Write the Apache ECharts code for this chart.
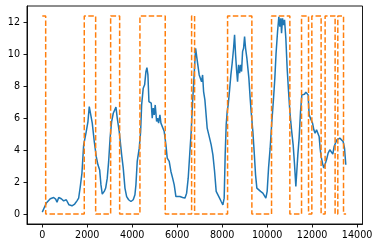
<!DOCTYPE html>
<html>
<head>
<meta charset="utf-8">
<script src="https://cdn.jsdelivr.net/npm/echarts@6/dist/echarts.min.js"></script>
<style>html,body{margin:0;padding:0;background:#fff;}#c{width:380px;height:248px;}</style>
</head>
<body>
<div id="c"></div>
<script>
const xTicks = [0, 2000, 4000, 6000, 8000, 10000, 12000, 14000];
const yTicks = [0, 2, 4, 6, 8, 10, 12];

const blueX = [0, 90, 180, 355, 505, 595, 655, 730, 845, 950, 1067, 1130, 1187, 1320, 1440, 1542, 1617, 1690, 1764, 1840, 1955, 2031, 2089, 2164, 2222, 2311, 2400, 2475, 2551, 2609, 2667, 2755, 2818, 2889, 2951, 3015, 3084, 3156, 3231, 3276, 3333, 3422, 3529, 3600, 3676, 3751, 3840, 3942, 4044, 4120, 4164, 4222, 4311, 4373, 4418, 4489, 4551, 4609, 4653, 4698, 4742, 4787, 4845, 4889, 4933, 4978, 5022, 5084, 5129, 5173, 5231, 5276, 5351, 5422, 5498, 5556, 5644, 5720, 5796, 5867, 5942, 6018, 6120, 6240, 6342, 6418, 6489, 6564, 6622, 6684, 6720, 6773, 6818, 6876, 6920, 6978, 7040, 7084, 7129, 7173, 7231, 7289, 7333, 7396, 7440, 7511, 7587, 7662, 7733, 7809, 7884, 7956, 8031, 8089, 8133, 8178, 8222, 8267, 8329, 8387, 8444, 8507, 8551, 8596, 8640, 8684, 8729, 8773, 8818, 8862, 8907, 8951, 8996, 9040, 9098, 9187, 9244, 9289, 9364, 9422, 9484, 9542, 9618, 9707, 9809, 9884, 9942, 10000, 10062, 10133, 10209, 10284, 10342, 10395, 10462, 10520, 10564, 10609, 10640, 10684, 10729, 10773, 10831, 10889, 10951, 11009, 11084, 11156, 11218, 11276, 11320, 11364, 11422, 11484, 11542, 11600, 11662, 11720, 11778, 11822, 11867, 11911, 11956, 12018, 12076, 12133, 12196, 12253, 12311, 12356, 12400, 12462, 12520, 12578, 12640, 12711, 12787, 12862, 12920, 12978, 13040, 13098, 13156, 13231, 13307, 13378, 13440, 13498];
const blueY = [0.12, 0.41, 0.69, 0.96, 1.04, 0.94, 0.75, 1.04, 0.96, 0.83, 0.90, 0.96, 0.58, 0.52, 0.63, 0.83, 1.00, 1.73, 2.57, 4.34, 5.17, 5.80, 6.74, 6.74, 5.70, 4.55, 3.60, 3.09, 2.77, 1.83, 1.25, 1.42, 1.63, 2.25, 3.30, 4.76, 5.80, 6.32, 6.22, 6.70, 6.01, 5.17, 3.71, 2.88, 1.63, 1.10, 0.90, 0.79, 0.90, 1.21, 1.83, 3.30, 4.13, 5.17, 6.84, 7.89, 8.10, 8.93, 9.18, 8.72, 7.05, 7.16, 6.95, 6.01, 6.64, 6.22, 6.84, 5.80, 6.01, 5.70, 6.22, 5.70, 5.80, 5.17, 4.34, 3.51, 3.30, 2.67, 2.25, 1.83, 1.10, 1.00, 1.10, 1.04, 1.00, 1.31, 2.25, 3.92, 5.17, 7.05, 7.89, 9.24, 10.39, 9.77, 9.87, 8.72, 8.62, 8.30, 8.72, 7.68, 7.16, 7.05, 5.39, 5.28, 4.76, 4.34, 3.71, 2.67, 1.42, 1.31, 1.00, 0.79, 0.58, 1.00, 3.71, 5.59, 6.42, 6.84, 7.78, 8.72, 9.45, 10.39, 11.23, 9.97, 9.04, 8.30, 9.35, 8.83, 9.35, 8.93, 10.18, 10.39, 11.12, 10.39, 9.77, 8.52, 7.26, 6.42, 5.17, 3.92, 2.46, 1.63, 1.52, 1.42, 1.31, 1.21, 1.00, 1.42, 2.88, 4.13, 5.80, 7.26, 8.52, 10.05, 11.43, 12.37, 11.75, 12.27, 11.33, 12.27, 11.85, 12.17, 11.02, 9.14, 7.68, 6.42, 5.28, 4.34, 3.09, 1.73, 1.73, 3.71, 4.76, 6.42, 7.47, 7.58, 7.51, 7.64, 7.72, 7.47, 6.22, 6.32, 5.90, 5.70, 5.28, 5.07, 5.28, 5.17, 4.86, 4.13, 3.60, 3.19, 2.88, 2.98, 3.40, 3.82, 4.03, 3.92, 3.76, 4.23, 4.34, 4.65, 4.76, 4.76, 4.65, 4.55, 4.13, 3.09];

const orangeEdges = [0, 151, 1867, 2373, 3040, 3440, 4342, 5467, 6640, 6773, 8240, 9320, 10195, 11009, 11529, 11840, 11987, 12400, 12578, 13022, 13142, 13396, 13511];
const orangeLevels = [12.42, 0];

const blueData = blueX.map((x, i) => [x, blueY[i]]);
const orangeData = [];
for (let i = 0; i < orangeEdges.length - 1; i++) {
  const lev = orangeLevels[i % 2];
  orangeData.push([orangeEdges[i], lev], [orangeEdges[i + 1], lev]);
}

const font = 'DejaVu Sans';
const chart = echarts.init(document.getElementById('c'), null, {renderer: 'canvas'});
chart.setOption({
  backgroundColor: '#fff',
  animation: false,
  grid: {left: 27, right: 17.5, top: 6, bottom: 24, show: true, borderColor: '#000', borderWidth: 0.9, containLabel: false, outerBoundsMode: 'none'},
  xAxis: {
    type: 'value', min: -680, max: 14240,
    splitLine: {show: false},
    axisLine: {show: true, onZero: false, lineStyle: {color: '#000', width: 0.9}},
    axisTick: {show: true, length: 3.5, customValues: xTicks, lineStyle: {color: '#000', width: 0.9}},
    axisLabel: {customValues: xTicks, formatter: v => String(v), color: '#000', fontFamily: font, fontSize: 9.6, margin: 6}
  },
  yAxis: {
    type: 'value', min: -0.621, max: 13.04,
    splitLine: {show: false},
    axisLine: {show: true, onZero: false, lineStyle: {color: '#000', width: 0.9}},
    axisTick: {show: true, length: 3.5, customValues: yTicks, lineStyle: {color: '#000', width: 0.9}},
    axisLabel: {customValues: yTicks, formatter: v => String(v), color: '#000', fontFamily: font, fontSize: 9.6, margin: 7}
  },
  series: [
    {type: 'line', data: blueData, showSymbol: false, symbol: 'none', lineStyle: {color: '#1f77b4', width: 1.5}, z: 2},
    {type: 'line', data: orangeData, showSymbol: false, symbol: 'none', lineStyle: {color: '#ff7f0e', width: 1.5, type: [5.5, 2.4]}, z: 3}
  ]
});
</script>
</body>
</html>
